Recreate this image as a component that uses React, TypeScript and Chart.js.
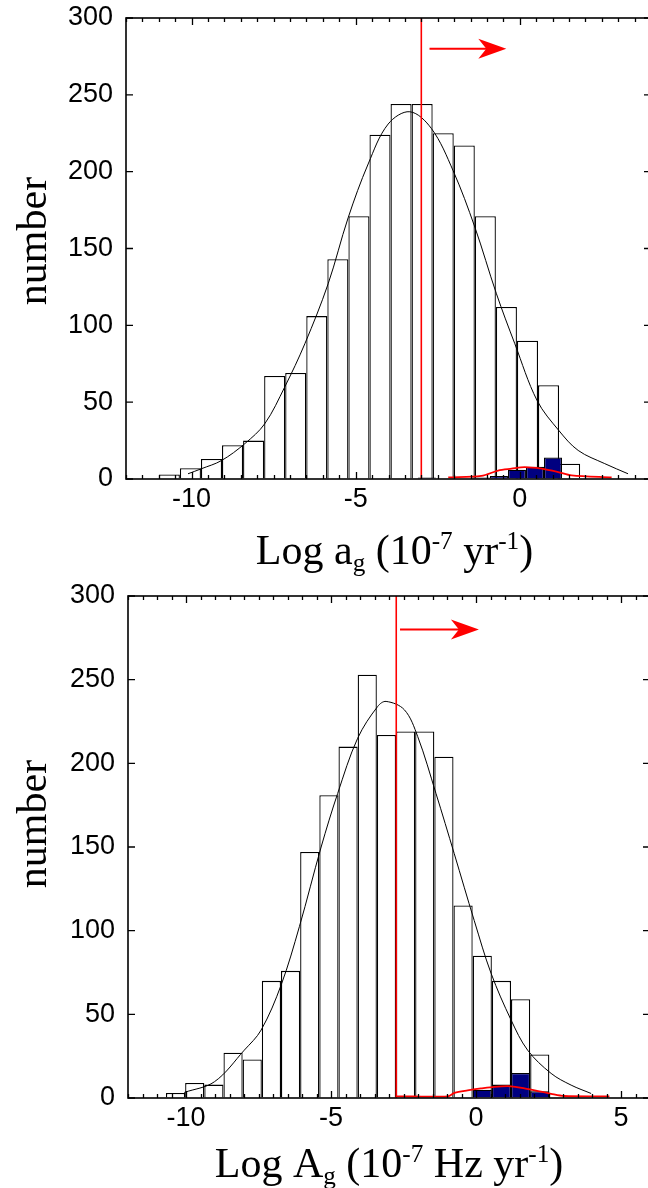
import React, { useEffect, useRef } from 'react';
import { Chart, registerables } from 'chart.js';
Chart.register(...registerables);

// ---------------- Top panel (Log a_g) ----------------
const topBinCenters = [-10.679, -10.037, -9.395, -8.753, -8.111, -7.469, -6.827, -6.185, -5.543, -4.901, -4.259, -3.617, -2.975, -2.333, -1.691, -1.049, -0.407, 0.235, 0.877, 1.519];
const topCounts = [3, 7, 13, 22, 25, 67, 69, 106, 143, 171, 224, 244, 244, 225, 217, 171, 112, 90, 61, 10];
const topSelCenters = [-2.83, -2.281, -1.732, -1.183, -0.634, -0.085, 0.464, 1.013];
const topSelCounts = [1, 0, 0, 1, 2, 6, 8, 14];
const topFitX = [-10.11, -9.7, -9.09, -8.38, -7.77, -7.16, -6.55, -5.84, -5.23, -4.62, -4.01, -3.35, -2.69, -2.03, -1.37, -0.71, -0.15, 0.53, 1.19, 1.78, 2.59, 3.3];
const topFitY = [3.4, 6.7, 12, 23, 36, 60, 88, 127, 170, 205, 231, 239, 228, 200.6, 164, 120.5, 88, 51, 31.6, 18.6, 10, 3.4];
const topSelFitX = [-2.18, -1.17, -0.66, -0.25, 0.15, 0.66, 1.17, 1.58, 2.8];
const topSelFitY = [1, 2, 5.5, 6.7, 7.7, 6.7, 4.5, 2.3, 1];
const topCut = -3.0;
const topArrowX = [-2.75, -0.41];
const topArrowY = 280;
const topXTicks = [-10, -5, 0];

// ---------------- Bottom panel (Log A_g) ----------------
const botBinCenters = [-10.36, -9.699, -9.038, -8.377, -7.716, -7.055, -6.394, -5.733, -5.072, -4.411, -3.75, -3.089, -2.428, -1.767, -1.106, -0.445, 0.216, 0.877, 1.538, 2.199];
const botCounts = [3, 9, 8, 27, 23, 70, 76, 147, 181, 210, 253, 217, 219, 219, 204, 115, 85, 70, 59, 26];
const botSelCenters = [0.216, 0.877, 1.538, 2.199];
const botSelCounts = [5, 8, 15, 4];
const botFitX = [-10.06, -9.02, -7.99, -7.41, -6.72, -6.09, -5.34, -4.77, -4.08, -3.39, -3.1, -2.47, -2.01, -1.38, -0.75, -0.06, 0.52, 1.21, 1.78, 2.59, 3.28, 3.97];
const botFitY = [3.3, 9.7, 28.6, 40.6, 67.5, 102.4, 150, 182, 215, 234, 237, 232, 216, 182, 146, 106, 74.5, 46.6, 28.6, 14.7, 7.7, 2.7];
const botSelFitX = [-2.76, -0.97, -0.74, -0.29, 0.17, 0.63, 1.21, 1.67, 2.59, 3.04, 4.6];
const botSelFitY = [1, 1, 3, 4.5, 5.7, 6.7, 7, 5.7, 2.5, 1.2, 1];
const botCut = -2.75;
const botArrowX = [-2.62, 0.1];
const botArrowY = 280;
const botXTicks = [-10, -5, 0, 5];

const yTicks = [0, 50, 100, 150, 200, 250, 300];

type Seg = [string, number];
const topTitle: Seg[] = [['Log a', 0], ['g', -1], [' (10', 0], ['-7', 1], [' yr', 0], ['-1', 1], [')', 0]];
const botTitle: Seg[] = [['Log A', 0], ['g', -1], [' (10', 0], ['-7', 1], [' Hz yr', 0], ['-1', 1], [')', 0]];
const yTitle = 'number';

const SANS = '"Liberation Sans", Arial, sans-serif';
const SERIF = '"Liberation Serif", "Times New Roman", serif';
const TITLE_SIZE = 42;

function drawRich(ctx: CanvasRenderingContext2D, segs: Seg[], cx: number, base: number, size: number) {
  const small = size * 0.6;
  const widths = segs.map(([t, k]) => {
    ctx.font = `${k ? small : size}px ${SERIF}`;
    return ctx.measureText(t).width;
  });
  const total = widths.reduce((a, b) => a + b, 0);
  let x = cx - total / 2;
  ctx.textAlign = 'left';
  ctx.textBaseline = 'alphabetic';
  ctx.fillStyle = '#000';
  segs.forEach(([t, k], i) => {
    ctx.font = `${k ? small : size}px ${SERIF}`;
    const dy = k === 1 ? -size * 0.36 : k === -1 ? size * 0.16 : 0;
    ctx.fillText(t, x, base + dy);
    x += widths[i];
  });
}

interface Panel {
  centers: number[]; counts: number[];
  selCenters: number[]; selCounts: number[];
  fitX: number[]; fitY: number[];
  selFitX: number[]; selFitY: number[];
  cut: number; arrowX: number[]; arrowY: number;
  xTicks: number[]; xMin: number; xMax: number;
  title: Seg[];
  width: number; height: number;
  padding: { left: number; right: number; top: number; bottom: number };
  yAxisWidth: number; xAxisHeight: number;
  titleBase: number; titleDx: number; yTitleX: number; yTitleY: number;
}

function buildChart(canvas: HTMLCanvasElement, p: Panel) {
  const pts = (xs: number[], ys: number[]) => xs.map((x, i) => ({ x, y: ys[i] }));
  const decor = {
    id: 'decor',
    afterDatasetsDraw(chart: any) {
      const { ctx, chartArea: a } = chart;
      const x = chart.scales.x;
      const y = chart.scales.y;
      ctx.save();
      ctx.strokeStyle = '#000';
      ctx.lineWidth = 1.3;
      ctx.beginPath();
      for (let v = Math.ceil(p.xMin * 2) / 2; v <= p.xMax + 1e-9; v += 0.5) {
        const px = Math.round(x.getPixelForValue(v)) + 0.5;
        const major = Math.abs(v % 5) < 1e-9;
        const len = major ? 7 : 4;
        ctx.moveTo(px, a.bottom); ctx.lineTo(px, a.bottom - len);
        ctx.moveTo(px, a.top); ctx.lineTo(px, a.top + len);
      }
      yTicks.forEach((v) => {
        const py = y.getPixelForValue(v);
        ctx.moveTo(a.left, py); ctx.lineTo(a.left + 7, py);
        ctx.moveTo(a.right, py); ctx.lineTo(a.right - 7, py);
      });
      ctx.stroke();
      ctx.lineWidth = 1.6;
      ctx.strokeRect(a.left, a.top, a.right - a.left, a.bottom - a.top);
      // arrow
      const x0 = x.getPixelForValue(p.arrowX[0]);
      const x1 = x.getPixelForValue(p.arrowX[1]);
      const ay = y.getPixelForValue(p.arrowY);
      ctx.strokeStyle = '#ff0000';
      ctx.fillStyle = '#ff0000';
      ctx.lineWidth = 2;
      ctx.beginPath();
      ctx.moveTo(x0, ay); ctx.lineTo(x1 - 12, ay);
      ctx.stroke();
      ctx.beginPath();
      ctx.moveTo(x1, ay);
      ctx.lineTo(x1 - 28, ay - 10);
      ctx.lineTo(x1 - 20, ay);
      ctx.lineTo(x1 - 28, ay + 10);
      ctx.closePath();
      ctx.fill();
      ctx.restore();
    },
    afterDraw(chart: any) {
      const { ctx, chartArea: a } = chart;
      ctx.save();
      drawRich(ctx, p.title, (a.left + a.right) / 2 + p.titleDx, p.titleBase, TITLE_SIZE);
      ctx.translate(p.yTitleX, p.yTitleY);
      ctx.rotate(-Math.PI / 2);
      ctx.font = `${TITLE_SIZE}px ${SERIF}`;
      ctx.textAlign = 'center';
      ctx.textBaseline = 'middle';
      ctx.fillStyle = '#000';
      ctx.fillText(yTitle, 0, 0);
      ctx.restore();
    },
  };

  return new Chart(canvas, {
    type: 'bar',
    data: {
      datasets: [
        {
          type: 'bar', label: 'all', data: pts(p.centers, p.counts) as any, xAxisID: 'x', yAxisID: 'y',
          backgroundColor: '#ffffff', borderColor: '#000000', borderWidth: 1.3,
          barPercentage: 1, categoryPercentage: 1, grouped: false, inflateAmount: 0, order: 5,
        },
        {
          type: 'bar', label: 'selected', data: pts(p.selCenters, p.selCounts) as any, xAxisID: 'xb', yAxisID: 'y',
          backgroundColor: '#000080', borderColor: '#000000', borderWidth: 1.3,
          barPercentage: 1, categoryPercentage: 1, grouped: false, inflateAmount: 0, order: 4,
        },
        {
          type: 'line', label: 'fit', data: pts(p.fitX, p.fitY) as any, xAxisID: 'x', yAxisID: 'y',
          borderColor: '#000000', borderWidth: 1, pointRadius: 0, tension: 0.35, fill: false, order: 3,
        },
        {
          type: 'line', label: 'selfit', data: pts(p.selFitX, p.selFitY) as any, xAxisID: 'x', yAxisID: 'y',
          borderColor: '#ff0000', borderWidth: 1.8, pointRadius: 0, tension: 0.3, fill: false, order: 2,
        },
        {
          type: 'line', label: 'cut', data: [{ x: p.cut, y: 0 }, { x: p.cut, y: 300 }] as any, xAxisID: 'x', yAxisID: 'y',
          borderColor: '#ff0000', borderWidth: 1.6, pointRadius: 0, fill: false, order: 1,
        },
      ],
    },
    options: {
      responsive: false,
      maintainAspectRatio: false,
      animation: false,
      devicePixelRatio: 1,
      layout: { padding: p.padding },
      plugins: { legend: { display: false }, tooltip: { enabled: false } },
      scales: {
        x: {
          type: 'linear', min: p.xMin, max: p.xMax, offset: false,
          grid: { display: false }, border: { display: false },
          ticks: { font: { family: SANS, size: 27 }, color: '#000', padding: -4, maxRotation: 0, autoSkip: false, callback: (v: any) => String(v) },
          afterBuildTicks: (s: any) => { s.ticks = p.xTicks.map((v) => ({ value: v })); },
          afterFit: (s: any) => { s.height = p.xAxisHeight; },
        },
        xb: {
          type: 'linear', min: p.xMin, max: p.xMax, offset: false, display: false,
        },
        y: {
          type: 'linear', min: 0, max: 300,
          grid: { display: true, drawOnChartArea: false, drawTicks: true, tickLength: 13, color: 'rgba(0,0,0,0)' },
          border: { display: false },
          ticks: { font: { family: SANS, size: 27 }, color: '#000', padding: 0, callback: (v: any) => String(v) },
          afterBuildTicks: (s: any) => { s.ticks = yTicks.map((v) => ({ value: v })); },
          afterFit: (s: any) => { s.width = p.yAxisWidth; },
        },
      } as any,
    },
    plugins: [decor],
  });
}

const topPanel: Panel = {
  centers: topBinCenters, counts: topCounts, selCenters: topSelCenters, selCounts: topSelCounts,
  fitX: topFitX, fitY: topFitY, selFitX: topSelFitX, selFitY: topSelFitY,
  cut: topCut, arrowX: topArrowX, arrowY: topArrowY, xTicks: topXTicks, xMin: -12, xMax: 4,
  title: topTitle, width: 660, height: 580,
  padding: { left: 8, right: 9, top: 18, bottom: 0 }, yAxisWidth: 118, xAxisHeight: 101,
  titleBase: 564, titleDx: 6, yTitleX: 35, yTitleY: 241,
};

const botPanel: Panel = {
  centers: botBinCenters, counts: botCounts, selCenters: botSelCenters, selCounts: botSelCounts,
  fitX: botFitX, fitY: botFitY, selFitX: botSelFitX, selFitY: botSelFitY,
  cut: botCut, arrowX: botArrowX, arrowY: botArrowY, xTicks: botXTicks, xMin: -12, xMax: 6,
  title: botTitle, width: 660, height: 610,
  padding: { left: 8, right: 10, top: 18, bottom: 0 }, yAxisWidth: 120, xAxisHeight: 90,
  titleBase: 599, titleDx: 0, yTitleX: 35, yTitleY: 246,
};

function Panel({ panel, top }: { panel: Panel; top: number }) {
  const ref = useRef<HTMLCanvasElement | null>(null);
  useEffect(() => {
    if (!ref.current) return;
    const c = buildChart(ref.current, panel);
    return () => c.destroy();
  }, [panel]);
  return (
    <canvas
      ref={ref}
      width={panel.width}
      height={panel.height}
      style={{ position: 'absolute', left: 0, top, width: panel.width, height: panel.height }}
    />
  );
}

export default function App() {
  return (
    <div style={{ position: 'fixed', left: 0, top: 0, width: 648, height: 1188, overflow: 'hidden', background: '#fff' }}>
      <Panel panel={topPanel} top={0} />
      <Panel panel={botPanel} top={578} />
    </div>
  );
}
